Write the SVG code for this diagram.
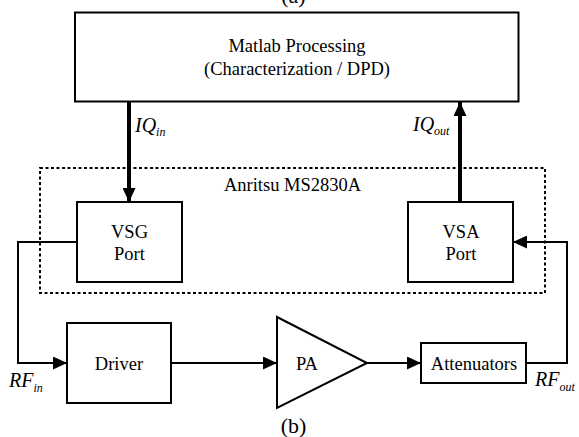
<svg xmlns="http://www.w3.org/2000/svg" width="579" height="437" viewBox="0 0 579 437">
  <style>
    .box { fill: #fff; stroke: #000; stroke-width: 2; }
    .lbl { font-family: "Liberation Serif", "Times New Roman", serif; font-size: 18.5px; fill: #000; text-anchor: middle; }
    .sig { font-family: "Liberation Serif", "Times New Roman", serif; font-style: italic; font-size: 20px; fill: #000; }
    .sub { font-size: 12px; }
    .wire { fill: none; stroke: #000; stroke-width: 2; }
    .bus { fill: none; stroke: #000; stroke-width: 4; }
    .cap { font-family: "Liberation Serif", "Times New Roman", serif; font-size: 22px; fill: #000; text-anchor: middle; }
  </style>
  <defs>
    <marker id="head" markerUnits="userSpaceOnUse" markerWidth="14" markerHeight="13" refX="14" refY="6.5" orient="auto">
      <path d="M0,0 L14,6.5 L0,13 Z" fill="#000"/>
    </marker>
  </defs>

  <!-- sub-figure captions -->
  <text class="cap" x="293.5" y="2.5">(a)</text>
  <text class="cap" x="293.5" y="433">(b)</text>

  <!-- instrument boundary -->
  <g id="anritsu">
    <rect x="40" y="168" width="505" height="125" fill="none" stroke="#000" stroke-width="2" stroke-dasharray="3,2.5"/>
    <text class="lbl" x="292.5" y="191">Anritsu MS2830A</text>
  </g>

  <!-- connectors -->
  <g id="connectors">
    <line class="bus" x1="129" y1="101" x2="129" y2="202" marker-end="url(#head)"/>
    <line class="bus" x1="460" y1="202" x2="460" y2="102" marker-end="url(#head)"/>
    <polyline class="wire" points="77,242 18,242 18,363 67,363" marker-end="url(#head)"/>
    <line class="wire" x1="171" y1="363" x2="277" y2="363" marker-end="url(#head)"/>
    <line class="wire" x1="367" y1="363" x2="421" y2="363" marker-end="url(#head)"/>
    <polyline class="wire" points="526,363 567,363 567,242 513,242" marker-end="url(#head)"/>
    <text class="sig" x="135" y="132">IQ<tspan class="sub" dy="4">in</tspan></text>
    <text class="sig" x="413" y="131">IQ<tspan class="sub" dy="4">out</tspan></text>
    <text class="sig" x="9" y="387">RF<tspan class="sub" dy="5">in</tspan></text>
    <text class="sig" x="535" y="386">RF<tspan class="sub" dy="5">out</tspan></text>
  </g>

  <g id="matlab">
    <rect class="box" x="75" y="12.5" width="443.5" height="89"/>
    <text class="lbl" x="297" y="52">Matlab Processing</text>
    <text class="lbl" x="297" y="75">(Characterization / DPD)</text>
  </g>

  <g id="vsg">
    <rect class="box" x="77" y="202" width="105" height="80"/>
    <text class="lbl" x="129.5" y="238">VSG</text>
    <text class="lbl" x="129.5" y="260">Port</text>
  </g>

  <g id="vsa">
    <rect class="box" x="408" y="202" width="105" height="80"/>
    <text class="lbl" x="461" y="238">VSA</text>
    <text class="lbl" x="461" y="260">Port</text>
  </g>

  <g id="driver">
    <rect class="box" x="67" y="323" width="104" height="80"/>
    <text class="lbl" x="119" y="370">Driver</text>
  </g>

  <g id="pa">
    <polygon class="box" points="277,317 367,363 277,408"/>
    <text class="lbl" x="307" y="370">PA</text>
  </g>

  <g id="attenuators">
    <rect class="box" x="421" y="343" width="105" height="40"/>
    <text class="lbl" x="474" y="370">Attenuators</text>
  </g>
</svg>
